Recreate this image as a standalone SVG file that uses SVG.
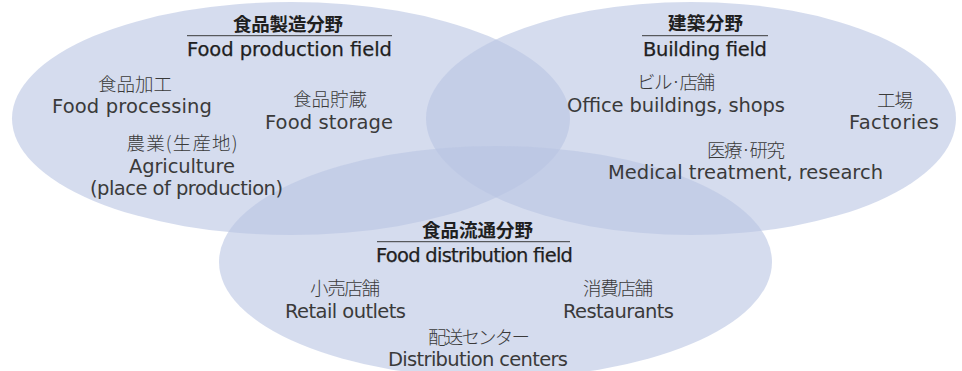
<svg xmlns="http://www.w3.org/2000/svg" width="962" height="371" viewBox="0 0 962 371">
<style>
.area{fill:#b9c5e3;fill-opacity:0.6;}
.jp{font-family:"Noto Sans CJK JP","Noto Sans",sans-serif;font-size:18.5px;font-weight:300;fill:#3a3a3a;text-anchor:middle;}
.en{font-family:"DejaVu Sans","Liberation Sans",sans-serif;font-size:19.5px;fill:#3a3a3a;text-anchor:middle;}
.hjp{font-family:"Noto Sans CJK JP","Noto Sans",sans-serif;font-size:18.5px;font-weight:700;fill:#1f1f1f;text-anchor:middle;}
.hen{font-family:"DejaVu Sans","Liberation Sans",sans-serif;font-size:19.5px;fill:#1f1f1f;stroke:#1f1f1f;stroke-width:0.25;text-anchor:middle;}
.rule{stroke:#3a3a3a;stroke-width:1;}
</style>
<rect width="962" height="371" fill="#ffffff"/>
<g id="areas">
<ellipse id="area-production" class="area" cx="291" cy="118.5" rx="279" ry="116.5"/>
<ellipse id="area-building" class="area" cx="691" cy="118.5" rx="265" ry="116.5"/>
<ellipse id="area-distribution" class="area" cx="495.5" cy="262" rx="276.5" ry="116"/>
</g>
<g id="food-production">
<text class="hjp" x="288" y="30.5" textLength="110">食品製造分野</text>
<line class="rule" x1="187" y1="35.7" x2="392" y2="35.7"/>
<text class="hen" x="289.5" y="56" textLength="205">Food production field</text>
<text class="jp" x="135" y="90.5" textLength="74">食品加工</text>
<text class="en" x="132" y="113" textLength="160">Food processing</text>
<text class="jp" x="330" y="105.5" textLength="74">食品貯蔵</text>
<text class="en" x="329" y="129" textLength="128">Food storage</text>
<text class="jp" x="182" y="150" textLength="111">農業(生産地)</text>
<text class="en" x="182" y="173" textLength="106">Agriculture</text>
<text class="en" x="186.5" y="195" textLength="193">(place of production)</text>
</g>
<g id="building">
<text class="hjp" x="705.5" y="29.5" textLength="75">建築分野</text>
<line class="rule" x1="642" y1="35.7" x2="768" y2="35.7"/>
<text class="hen" x="705" y="56" textLength="124">Building field</text>
<text class="jp" x="676" y="89" textLength="78">ビル·店舗</text>
<text class="en" x="676" y="112" textLength="218">Office buildings, shops</text>
<text class="jp" x="895" y="106.5" textLength="36">工場</text>
<text class="en" x="894" y="129" textLength="90">Factories</text>
<text class="jp" x="746" y="157" textLength="78">医療·研究</text>
<text class="en" x="745.5" y="179" textLength="275">Medical treatment, research</text>
</g>
<g id="food-distribution">
<text class="hjp" x="477.5" y="236.5" textLength="111">食品流通分野</text>
<line class="rule" x1="377" y1="241.7" x2="570" y2="241.7"/>
<text class="hen" x="474.5" y="262" textLength="197">Food distribution field</text>
<text class="jp" x="345" y="295" textLength="70">小売店舗</text>
<text class="en" x="345.5" y="318" textLength="121">Retail outlets</text>
<text class="jp" x="618" y="295" textLength="70">消費店舗</text>
<text class="en" x="618.5" y="318" textLength="111">Restaurants</text>
<text class="jp" x="479" y="344" textLength="102">配送センター</text>
<text class="en" x="478" y="366" textLength="180">Distribution centers</text>
</g>
</svg>
